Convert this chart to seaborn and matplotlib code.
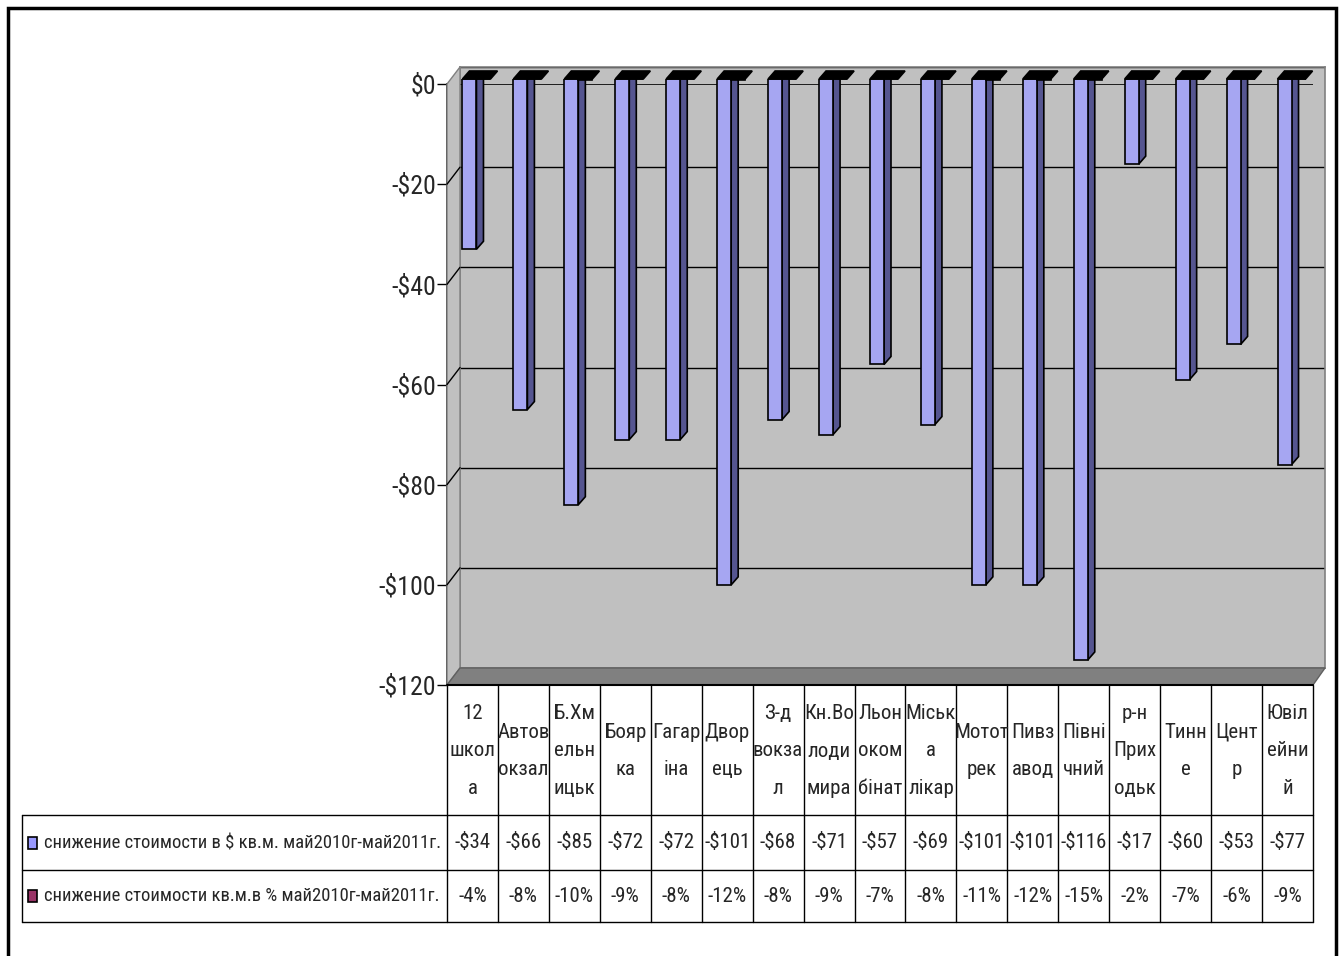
import matplotlib

matplotlib.use("Agg")
import matplotlib.pyplot as plt
import matplotlib.transforms as mtransforms
from matplotlib.lines import Line2D
from matplotlib.patches import Polygon, Rectangle
import pandas as pd
import seaborn as sns

# data
categories = ["12 школа", "Автовокзал", "Б.Хмельницьк", "Боярка", "Гагаріна", "Дворець",
              "З-д вокзал", "Кн.Володимира", "Льонокомбінат", "Міська лікар", "Мототрек",
              "Пивзавод", "Північний", "р-н Приходьк", "Тинне", "Центр", "Ювілейний"]
tick_labels = ["12\nшкол\nа", "Автов\nокзал", "Б.Хм\nельн\nицьк", "Бояр\nка", "Гагар\nіна",
               "Двор\nець", "З-д\nвокза\nл", "Кн.Во\nлоди\nмира", "Льон\nоком\nбінат",
               "Міськ\nа\nлікар", "Мотот\nрек", "Пивз\nавод", "Півні\nчний", "р-н\nПрих\nодьк",
               "Тинн\nе", "Цент\nр", "Ювіл\nейни\nй"]
usd_drop = [-34, -66, -85, -72, -72, -101, -68, -71, -57, -69, -101, -101, -116, -17, -60, -53, -77]
pct_drop = [-4, -8, -10, -9, -8, -12, -8, -9, -7, -8, -11, -12, -15, -2, -7, -6, -9]
series_names = ["снижение стоимости в $ кв.м. май2010г-май2011г.",
                "снижение стоимости кв.м.в % май2010г-май2011г."]
series_colors = ["#9999ff", "#993366"]
y_ticks = [0, -20, -40, -60, -80, -100, -120]

W, H = 1343, 956
FONT = ["Roboto Condensed", "PT Sans Narrow", "DejaVu Sans"]

sns.set_theme(style="white")
plt.rcParams["font.family"] = FONT
plt.rcParams["font.stretch"] = "condensed"

fig = plt.figure(figsize=(W / 100, H / 100), dpi=100)
fig.patch.set_facecolor("white")


def box(x0, y0, x1, y1):
    # pixel box (top-left origin) -> figure rect
    return [x0 / W, 1 - y1 / H, (x1 - x0) / W, (y1 - y0) / H]


def P(x, y):
    return (x / W, 1 - y / H)


def money(v):
    return ("-" if v < 0 else "") + r"\$" + str(abs(v))


# back wall
ax_wall = fig.add_axes(box(460, 67, 1325, 668))
ax_wall.set_facecolor("#c0c0c0")
ax_wall.set_ylim(-120, 0)
ax_wall.set_xlim(0, 1)
ax_wall.set_yticks(y_ticks)
ax_wall.set_xticks([])
ax_wall.tick_params(left=False, labelleft=False)
ax_wall.grid(axis="y", color="black", lw=1)
for s in ax_wall.spines.values():
    s.set_color("#808080")
    s.set_linewidth(1.2)

# left side wall and floor
fig.add_artist(Polygon([P(447, 84), P(460, 67), P(460, 668), P(447, 685)],
                       closed=True, transform=fig.transFigure,
                       facecolor="#c0c0c0", edgecolor="#808080", lw=1))
fig.add_artist(Polygon([P(447, 685), P(1313, 685), P(1325, 668), P(460, 668)],
                       closed=True, transform=fig.transFigure,
                       facecolor="#808080", edgecolor="#606060", lw=1))

# front axis with tick labels
ax_y = fig.add_axes(box(447, 84, 1313, 685))
ax_y.patch.set_alpha(0)
ax_y.set_ylim(-120, 0)
ax_y.set_xlim(-0.5, len(categories) - 0.5)
ax_y.set_yticks(y_ticks)
ax_y.set_yticklabels([money(v) for v in y_ticks], fontsize=18.5)
ax_y.set_xticks([])
ax_y.tick_params(axis="y", direction="out", length=7, width=1, color="black", pad=1, left=True)
for name, s in ax_y.spines.items():
    s.set_visible(name == "left")
ax_y.spines["left"].set_color("black")
ax_y.spines["left"].set_linewidth(1.2)
# category axis line at zero, front plane
ax_y.axhline(0, color="black", lw=1.2)

# diagonal tick connectors on the side wall
for v in y_ticks[1:-1]:
    yp = 84 + (0 - v) * (685 - 84) / 120
    fig.add_artist(Line2D([447 / W, 460 / W], [1 - yp / H, 1 - (yp - 17) / H],
                          transform=fig.transFigure, color="black", lw=1))

# bars sit half way into the depth
ax_bars = fig.add_axes(box(451, 79, 1317, 680))
ax_bars.patch.set_alpha(0)
df = pd.DataFrame({
    "category": categories * 2,
    "series": [series_names[0]] * len(categories) + [series_names[1]] * len(categories),
    "value": usd_drop + [p / 100 for p in pct_drop],
})
sns.barplot(data=df, x="category", y="value", hue="series", palette=series_colors,
            width=0.55, dodge=True, edgecolor="black", linewidth=1.2, legend=False,
            ax=ax_bars, zorder=3)
ax_bars.set_ylim(-120, 0)
ax_bars.set_xlim(-0.5, len(categories) - 0.5)
ax_bars.axis("off")

# fake 3d: side faces and top faces computed from the bar patches
px_x = (1317 - 451) / len(categories)
px_y = (680 - 79) / 120
dx, dy = 7 / px_x, 8 / px_y
bars = ax_bars.patches
n = len(categories)
for i in range(n):
    b = bars[i]
    x0 = b.get_x()
    x1 = x0 + b.get_width()
    ybot = b.get_y() + b.get_height()
    side = Polygon([(x1, 0), (x1 + dx, dy), (x1 + dx, ybot + dy), (x1, ybot)], closed=True,
                   facecolor="#555590", edgecolor="black", lw=1.2, zorder=2)
    ax_bars.add_patch(side)
    b2 = bars[i + n]
    x2 = b2.get_x() + b2.get_width()
    top = Polygon([(x0, 0), (x2, 0), (x2 + dx, dy), (x0 + dx, dy)], closed=True,
                  facecolor="black", edgecolor="black", lw=1.2, zorder=4, clip_on=False)
    ax_bars.add_patch(top)

# data table below the chart
tr = mtransforms.blended_transform_factory(ax_y.transData, fig.transFigure)
for i in range(n + 1):
    fig.add_artist(Line2D([i - 0.5, i - 0.5], [1 - 685 / H, 1 - 922 / H], transform=tr,
                          color="black", lw=1))
for yp in [815, 870, 922]:
    fig.add_artist(Line2D([22 / W, 1313 / W], [1 - yp / H, 1 - yp / H],
                          transform=fig.transFigure, color="black", lw=1))
fig.add_artist(Line2D([22 / W, 22 / W], [1 - 815 / H, 1 - 922 / H],
                      transform=fig.transFigure, color="black", lw=1))
fig.add_artist(Line2D([447 / W, 1313 / W], [1 - 685 / H, 1 - 685 / H],
                      transform=fig.transFigure, color="black", lw=1.5))

for i, lab in enumerate(tick_labels):
    fig.text(i, 1 - 751 / H, lab, transform=tr, ha="center", va="center",
             fontsize=15, linespacing=2.25)
    fig.text(i, 1 - 843 / H, money(usd_drop[i]), transform=tr, ha="center", va="center",
             fontsize=15)
    fig.text(i, 1 - 896 / H, f"{pct_drop[i]}%", transform=tr, ha="center", va="center",
             fontsize=15)

for k, yc in enumerate([843, 896]):
    fig.add_artist(Rectangle(P(28, yc + 6), 9 / W, 12 / H, transform=fig.transFigure,
                             facecolor=series_colors[k], edgecolor="black", lw=1.2))
    fig.text(44 / W, 1 - yc / H, series_names[k].replace("$", r"\$"), ha="left", va="center",
             fontsize=13.4)

# chart area border
fig.add_artist(Rectangle(P(8, 970), (1336 - 8) / W, (970 - 8) / H, transform=fig.transFigure,
                         fill=False, edgecolor="black", lw=2.5))

fig.savefig("out.png", dpi=100)
